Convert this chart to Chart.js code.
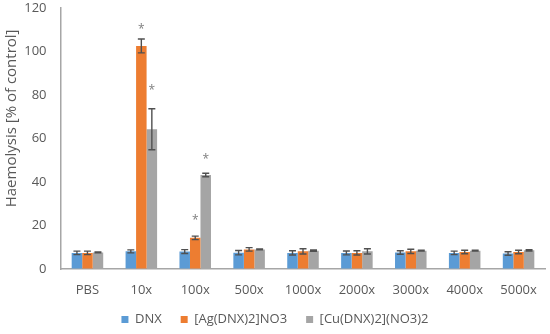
<!DOCTYPE html>
<html>
<head>
<meta charset="utf-8">
<script src="https://cdn.jsdelivr.net/npm/chart.js@4"></script>
<style>
  html, body { margin: 0; padding: 0; background: #fff; }
  #wrap { width: 550px; height: 334px; }
</style>
</head>
<body>
<div id="wrap"><canvas id="c" width="550" height="334"></canvas></div>
<script>
var categories = ['PBS', '10x', '100x', '500x', '1000x', '2000x', '3000x', '4000x', '5000x'];

var dnxValues = [7.4, 8.1, 8.0, 7.5, 7.4, 7.4, 7.6, 7.4, 7.1];
var dnxErrors = [0.8, 0.7, 0.9, 1.0, 1.0, 0.9, 0.8, 0.8, 0.8];

var agValues = [7.4, 102.5, 14.3, 9.0, 8.1, 7.4, 8.1, 7.8, 7.8];
var agErrors = [0.8, 3.2, 0.8, 0.8, 1.2, 1.0, 1.0, 0.8, 0.8];

var cuValues = [7.6, 64.2, 43.2, 9.0, 8.4, 8.1, 8.4, 8.4, 8.6];
var cuErrors = [0.2, 9.4, 0.8, 0.2, 0.3, 1.2, 0.2, 0.2, 0.3];

// significance marks: [dataset index, category index, value where the * sits]
var stars = [[1, 1, 111], [2, 1, 83], [1, 2, 23], [2, 2, 51]];

var yTicks = [0, 20, 40, 60, 80, 100, 120];
var yTitle = 'Haemolysis [% of control]';

var textColor = '#595959';
var fontFamily = '"Open Sans", "Liberation Sans", sans-serif';

var errorBars = {
  id: 'errorBars',
  beforeInit: function(chart) {
    // legend: keep the wide item spacing but a shorter box
    var fit = chart.legend.fit;
    chart.legend.fit = function() {
      fit.call(this);
      this.height = 34;
    };
  },
  afterLayout: function(chart) {
    chart.legend.top -= 6;
    chart.legend.bottom -= 6;
  },
  afterDatasetsDraw: function(chart) {
    var ctx = chart.ctx;
    var y = chart.scales.y;
    ctx.save();
    ctx.strokeStyle = '#505050';
    ctx.lineWidth = 1.4;
    chart.data.datasets.forEach(function(ds, di) {
      var meta = chart.getDatasetMeta(di);
      meta.data.forEach(function(bar, i) {
        var v = ds.data[i], e = ds.errors[i];
        var top = y.getPixelForValue(v + e);
        var bot = y.getPixelForValue(v - e);
        ctx.beginPath();
        ctx.moveTo(bar.x, top); ctx.lineTo(bar.x, bot);
        ctx.moveTo(bar.x - 3.5, top); ctx.lineTo(bar.x + 3.5, top);
        ctx.moveTo(bar.x - 3.5, bot); ctx.lineTo(bar.x + 3.5, bot);
        ctx.stroke();
      });
    });
    ctx.fillStyle = '#7f7f7f';
    ctx.font = '12px ' + fontFamily;
    ctx.textAlign = 'center';
    ctx.textBaseline = 'middle';
    stars.forEach(function(s) {
      var bar = chart.getDatasetMeta(s[0]).data[s[1]];
      ctx.fillText('*', bar.x, y.getPixelForValue(s[2]) + 2);
    });
    // y axis title, sits a little above the middle like the original
    var a = chart.chartArea;
    ctx.translate(a.left - 49, (a.top + a.bottom) / 2 - 20);
    ctx.rotate(-Math.PI / 2);
    ctx.fillStyle = textColor;
    ctx.font = '15px ' + fontFamily;
    ctx.fillText(yTitle, 0, 0);
    ctx.restore();
  }
};

new Chart(document.getElementById('c'), {
  type: 'bar',
  data: {
    labels: categories,
    datasets: [
      { label: 'DNX', data: dnxValues, errors: dnxErrors, backgroundColor: '#5B9BD5' },
      { label: '[Ag(DNX)2]NO3', data: agValues, errors: agErrors, backgroundColor: '#ED7D31' },
      { label: '[Cu(DNX)2](NO3)2', data: cuValues, errors: cuErrors, backgroundColor: '#A5A5A5' }
    ]
  },
  options: {
    responsive: false,
    animation: false,
    layout: { padding: { left: 3, right: 3, top: 0, bottom: 0 } },
    datasets: { bar: { categoryPercentage: 0.585, barPercentage: 1.0 } },
    plugins: {
      legend: {
        position: 'bottom',
        labels: {
          color: textColor,
          font: { family: fontFamily, size: 13 },
          boxWidth: 7, boxHeight: 7, padding: 19
        }
      },
      tooltip: { enabled: false }
    },
    scales: {
      x: {
        grid: { display: false, drawTicks: false },
        border: { color: '#A6A6A6', width: 1.5 },
        ticks: { color: textColor, font: { family: fontFamily, size: 13 }, padding: 13, maxRotation: 0 },
        afterFit: function(scale) { scale.height = 31; }
      },
      y: {
        min: 0, max: 120,
        afterBuildTicks: function(axis) { axis.ticks = yTicks.map(function(v) { return { value: v }; }); },
        grid: { display: true, drawOnChartArea: false, drawTicks: true, tickLength: 14, tickColor: 'rgba(0,0,0,0)' },
        border: { color: '#A6A6A6', width: 1.5 },
        ticks: { color: textColor, font: { family: fontFamily, size: 13 }, padding: 0 },
        afterFit: function(scale) { scale.width = 57.5; }
      }
    }
  },
  plugins: [errorBars]
});
</script>
</body>
</html>
